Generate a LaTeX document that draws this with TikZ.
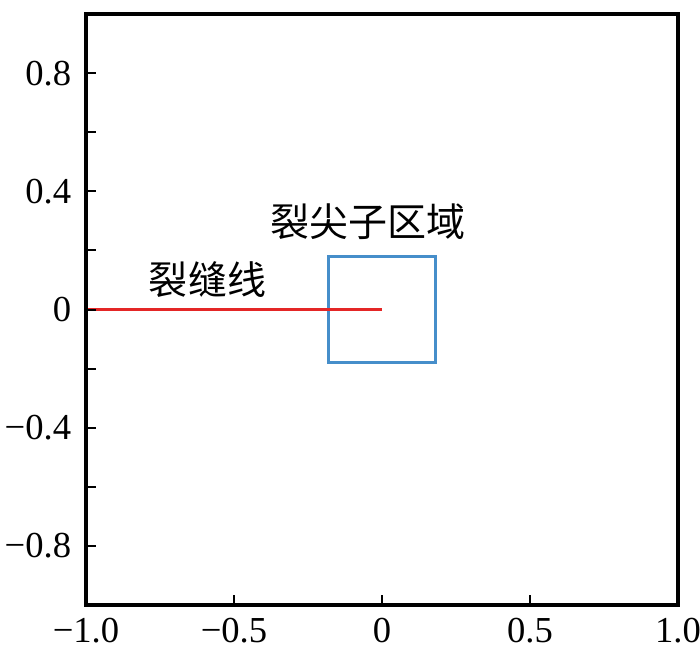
\documentclass[tikz,border=0pt]{standalone}
\usepackage{fontspec}
\setmainfont{Liberation Serif}
\newfontfamily\cjk{Noto Sans CJK SC}
\usepackage{tikz}
\definecolor{crackred}{RGB}{228,38,38}
\definecolor{tipblue}{RGB}{70,142,202}

\begin{document}
\begin{tikzpicture}[x=148pt,y=147.75pt,
    ticklabel/.style={font=\fontsize{18.3}{20}\selectfont,inner sep=0pt},
    cjklabel/.style={font=\cjk\fontsize{19.5}{21}\selectfont,inner sep=0pt}]
  \useasboundingbox (-1.2905,-1.1658) rectangle (1.0743,1.0474);
   \coordinate (Origin) at (0,0);
   \coordinate (Crackend) at (-1,0);
   \coordinate (Boxlow) at (-0.18,-0.18);
   \coordinate (Boxup) at (0.18,0.18);
   \coordinate (Framelow) at (-1,-1);
   \coordinate (Frameup) at (1,1);
 % crack tip sub-region and crack line
 \draw [line width=1.5pt,tipblue] (Boxlow) rectangle (Boxup);
 \draw [line width=1.2pt,crackred] (Crackend) -- (Origin);
 \node[cjklabel] (tiptext) at (-0.047,0.298) {裂尖子区域};
 \node[cjklabel] (cracktext) at (-0.5895,0.1) {裂缝线};
 % ticks on the axes
  \foreach \k in {-4,...,4}{%
    \draw[line width=1pt] (-1,\k/5) -- ++(0.034,0);
  }
  \foreach \k in {-1,0,1}{%
    \draw[line width=1pt] (\k/2,-1) -- ++(0,0.034);
  }
  \foreach \y/\t [count=\i] in {0.8/0.8,0.4/0.4,0/0,-0.4/−0.4,-0.8/−0.8}{%
    \node[ticklabel,anchor=east,xshift=-7.25pt] (ylab\i) at (-1,\y) {\t};
  }
  \foreach \x/\t [count=\i] in {-1/−1.0,-0.5/−0.5,0/0,0.5/0.5,1/1.0}{%
    \node[ticklabel,anchor=north,yshift=-6.5pt] (xlab\i) at (\x,-1) {\t};
  }
 \draw [line width=1.6pt] (Framelow) rectangle (Frameup);
\end{tikzpicture}
\end{document}
